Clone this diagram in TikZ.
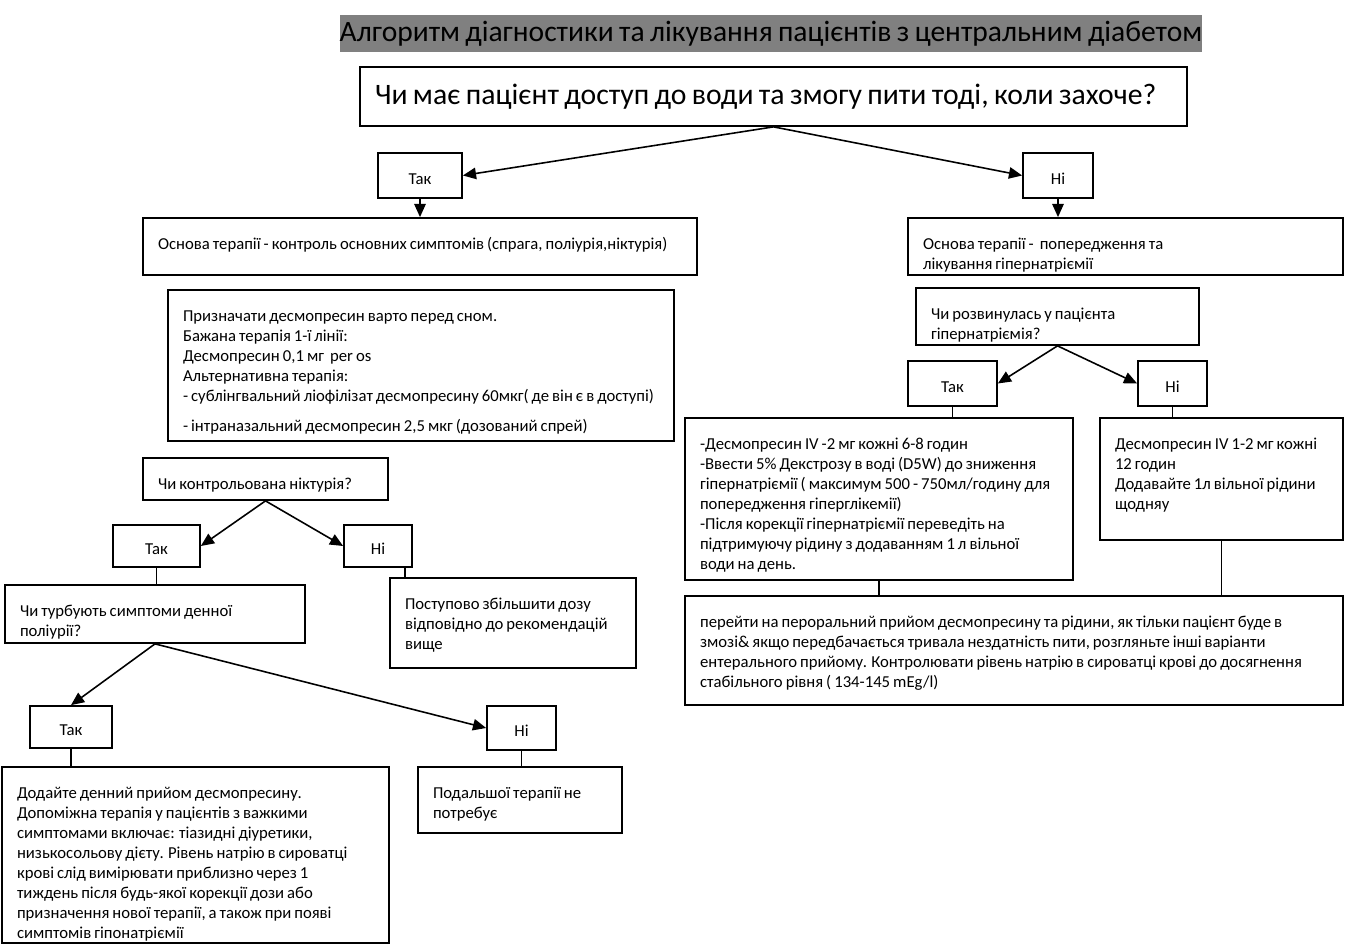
\documentclass[tikz,border=0pt]{standalone}
\usepackage{fontspec}
\setmainfont[WordSpace=0.8]{Carlito}
\usetikzlibrary{arrows.meta, positioning}
% text block of a box: fixed height, top aligned, left padding
\newcommand{\boxtext}[3]{\parbox[c][#1][t]{#2}{\raggedright\leftskip=0.3cm\rule{0pt}{18pt}#3}}

\begin{document}
\begin{tikzpicture}[
    x=0.02cm, y=-0.02cm,
    box/.style={draw, line width=1pt, inner sep=0pt, font=\fontsize{9.5}{11.34}\selectfont},
    answer/.style={draw, line width=1pt, inner sep=0pt, text height=10pt, text depth=0pt,
                   font=\fontsize{9.5}{11.34}\selectfont},
    link/.style={line width=0.9pt},
    >={Triangle[length=7.5pt, width=6.5pt]}
]
    \useasboundingbox (0,0) rectangle (1346,952);
    % title and first question
    \node[fill=gray, inner sep=0pt, minimum width=17.16cm, minimum height=0.74cm,
          font=\fontsize{16.8}{18}\selectfont] (title) at (771,33.5)
          {Алгоритм діагностики та лікування пацієнтів з центральним діабетом};
    \node[draw, line width=1pt, inner xsep=0.3cm, minimum width=16.54cm, minimum height=1.18cm,
          font=\fontsize{16.9}{18}\selectfont] (q1) at (773.5,96.5)
          {\makebox[15.94cm][l]{Чи має пацієнт доступ до води та змогу пити тоді, коли захоче?}};
    \node[answer, minimum width=1.68cm, minimum height=0.9cm] (yes1) at (420,175.5) {Так};
    \node[answer, minimum width=1.40cm, minimum height=0.9cm] (no1) at (1058,175.5) {Ні};

    % left branch
    \node[box] (baseL) at (420,246.5) {\boxtext{1.14cm}{11.08cm}
          {Основа терапії - контроль основних симптомів (спрага, поліурія,ніктурія)}};
    \node[box] (dose) at (421,365.5) {\boxtext{3.02cm}{10.12cm}
          {Призначати десмопресин варто перед сном.\\
           Бажана терапія 1-ї лінії:\\
           Десмопресин 0,1 мг~ per os\\
           Альтернативна терапія:\\
           - сублінгвальний ліофілізат десмопресину 60мкг( де він є в доступі)\\[0.2cm]
           - інтраназальний десмопресин 2,5 мкг (дозований спрей)}};
    \node[box] (noct) at (265.5,479) {\boxtext{0.84cm}{4.90cm}
          {Чи контрольована ніктурія?}};
    \node[answer, minimum width=1.74cm, minimum height=0.84cm] (yes2) at (156.5,546) {Так};
    \node[answer, minimum width=1.36cm, minimum height=0.84cm] (no2) at (378,546) {Ні};
    \node[box] (poly) at (155,614) {\boxtext{1.16cm}{6.00cm}
          {Чи турбують симптоми денної\\поліурії?}};
    \node[box] (titr) at (513,623) {\boxtext{1.80cm}{4.92cm}
          {Поступово збільшити дозу\\відповідно до рекомендацій\\вище}};
    \node[answer, minimum width=1.64cm, minimum height=0.84cm] (yes3) at (71,727) {Так};
    \node[answer, minimum width=1.38cm, minimum height=0.88cm] (no3) at (521.5,728) {Ні};
    \node[box] (day) at (195.5,855) {\boxtext{3.52cm}{7.74cm}
          {Додайте денний прийом десмопресину.\\
           Допоміжна терапія у пацієнтів з важкими\\
           симптомами включає: тіазидні діуретики,\\
           низькосольову дієту. Рівень натрію в сироватці\\
           крові слід вимірювати приблизно через 1\\
           тиждень після будь-якої корекції дози або\\
           призначення нової терапії, а також при появі\\
           симптомів гіпонатріємії}};
    \node[box] (none) at (520,800) {\boxtext{1.32cm}{4.08cm}
          {Подальшої терапії не\\потребує}};

    % right branch
    \node[box] (baseR) at (1125.5,246.5) {\boxtext{1.14cm}{8.70cm}
          {Основа терапії - ~попередження та\\лікування гіпернатріємії}};
    \node[box] (hyp) at (1057.5,316.5) {\boxtext{1.14cm}{5.66cm}
          {Чи розвинулась у пацієнта\\гіпернатріємія?}};
    \node[answer, minimum width=1.78cm, minimum height=0.9cm] (yes4) at (952.5,383.5) {Так};
    \node[answer, minimum width=1.38cm, minimum height=0.9cm] (no4) at (1172.5,383.5) {Ні};
    \node[box] (ivA) at (879,499) {\boxtext{3.24cm}{7.76cm}
          {-Десмопресин IV -2 мг кожні 6-8 годин\\
           -Ввести 5\% Декстрозу в воді (D5W) до зниження\\
           гіпернатріємії ( максимум 500 - 750мл/годину для\\
           попередження гіперглікемії)\\
           -Після корекції гіпернатріємії переведіть на\\
           підтримуючу рідину з додаванням 1 л вільної\\
           води на день.}};
    \node[box] (ivB) at (1221.5,479) {\boxtext{2.44cm}{4.86cm}
          {Десмопресин IV 1-2 мг кожні\\12 годин\\Додавайте 1л вільної рідини\\щодняу}};
    \node[box] (oral) at (1014,650.5) {\boxtext{2.18cm}{13.16cm}
          {перейти на пероральний прийом десмопресину та рідини, як тільки пацієнт буде в\\
           змозі\& якщо передбачається тривала нездатність пити, розгляньте інші варіанти\\
           ентерального прийому. Контролювати рівень натрію в сироватці крові до досягнення\\
           стабільного рівня ( 134-145 mEg/l)}};

    % connectors
    \draw[link, ->] (q1.south) -- (yes1.east);
    \draw[link, ->] (q1.south) -- (no1.west);
    \draw[link, ->] (yes1.south) -- (baseL.north);
    \draw[link, ->] (no1.south) -- (no1.south |- baseR.north);
    \draw[link, ->] (noct.south) -- (yes2.east);
    \draw[link, ->] (noct.south) -- (no2.west);
    \draw[link] (yes2.south) -- (yes2.south |- poly.north);
    \coordinate (no2foot) at ([xshift=-0.16cm]no2.south east);
    \draw[link] (no2foot) -- (no2foot |- titr.north);
    \draw[link, ->] (poly.south) -- (yes3.north);
    \draw[link, ->] (poly.south) -- (no3.west);
    \draw[link] (yes3.south) -- (yes3.south |- day.north);
    \draw[link] (no3.south) -- (no3.south |- none.north);
    \draw[link, ->] (hyp.south) -- (yes4.east);
    \draw[link, ->] (hyp.south) -- (no4.west);
    \draw[link] (yes4.south) -- (yes4.south |- ivA.north);
    \draw[link] (no4.south) -- (no4.south |- ivB.north);
    \draw[link] (ivA.south) -- (ivA.south |- oral.north);
    \draw[link] (ivB.south) -- (ivB.south |- oral.north);
\end{tikzpicture}
\end{document}
